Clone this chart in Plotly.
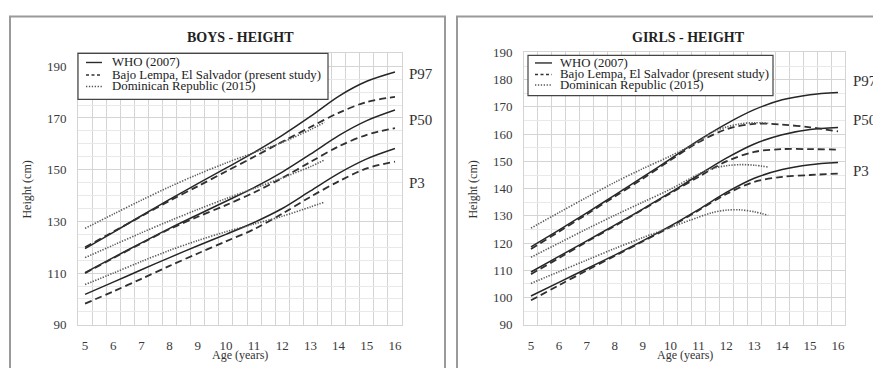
import plotly.graph_objects as go

W, H = 881, 368
OFF = 8  # the page body keeps its default 8px margin; positions below are window pixels

# ---------------- data ----------------
ages = [5, 6, 7, 8, 9, 10, 11, 12, 13, 14, 15, 16]
dom_ages = [5, 6, 7, 8, 9, 10, 11, 12, 13, 13.5]
dom_ages_g = [5, 6, 7, 8, 9, 10, 11, 11.5, 12, 12.5, 13, 13.5]

boys_who_p3 = [101.8, 106.5, 111.3, 116.0, 120.6, 125.0, 129.6, 135.0, 141.8, 148.6, 154.2, 158.2]
boys_who_p50 = [110.2, 116.0, 121.7, 127.3, 132.6, 137.8, 143.1, 149.1, 156.0, 163.2, 169.0, 173.1]
boys_who_p97 = [119.5, 125.8, 132.2, 138.5, 144.6, 150.6, 156.7, 163.3, 170.6, 178.4, 184.2, 187.8]

boys_bl_p3 = [98.2, 102.9, 107.8, 112.8, 117.6, 122.3, 127.0, 133.0, 139.5, 145.5, 150.5, 153.1]
boys_bl_p50 = [110.0, 115.8, 121.5, 127.0, 131.8, 136.3, 141.2, 146.8, 153.0, 159.0, 163.5, 166.1]
boys_bl_p97 = [120.0, 126.0, 132.0, 138.0, 143.6, 149.3, 155.0, 160.8, 166.5, 172.0, 176.2, 178.2]

boys_dom_p3 = [105.6, 110.0, 114.5, 118.8, 122.6, 126.0, 129.0, 132.0, 135.6, 137.5]
boys_dom_p50 = [116.0, 120.8, 125.6, 130.2, 134.6, 138.8, 142.8, 146.8, 151.2, 153.8]
boys_dom_p97 = [127.3, 132.8, 138.2, 143.4, 148.2, 152.6, 156.6, 160.6, 165.5, 168.3]

girls_who_p3 = [100.6, 105.6, 110.6, 115.6, 120.8, 126.3, 132.3, 138.6, 143.8, 147.0, 148.8, 149.6]
girls_who_p50 = [109.4, 115.1, 120.8, 126.6, 132.5, 138.6, 145.0, 151.2, 156.4, 159.8, 161.7, 162.4]
girls_who_p97 = [118.6, 124.8, 131.1, 137.6, 144.2, 150.9, 157.7, 163.8, 169.0, 172.6, 174.5, 175.3]

girls_bl_p3 = [99.0, 104.5, 110.0, 115.3, 120.6, 126.0, 132.0, 138.0, 142.5, 144.3, 145.0, 145.5]
girls_bl_p50 = [108.6, 114.5, 120.5, 126.3, 132.3, 138.3, 144.3, 150.0, 153.5, 154.5, 154.5, 154.3]
girls_bl_p97 = [117.8, 124.2, 130.6, 137.1, 143.6, 150.5, 157.0, 161.8, 163.8, 163.5, 162.5, 161.0]

girls_dom_p3 = [105.2, 109.5, 113.8, 118.0, 122.0, 125.8, 129.5, 131.2, 132.1, 132.2, 131.5, 130.2]
girls_dom_p50 = [114.8, 120.0, 125.2, 130.2, 135.0, 139.8, 145.3, 147.4, 148.4, 148.8, 148.6, 147.9]
girls_dom_p97 = [125.5, 131.2, 136.8, 142.3, 147.3, 152.0, 157.3, 160.8, 162.6, 163.8, 164.2, 164.0]

x_ticks = [5, 6, 7, 8, 9, 10, 11, 12, 13, 14, 15, 16]
boys_y_ticks = [90, 110, 130, 150, 170, 190]
girls_y_ticks = [90, 100, 110, 120, 130, 140, 150, 160, 170, 180, 190]

series_names = ["WHO (2007)", "Bajo Lempa, El Salvador (present study)", "Dominican Republic (2015)"]
pct_labels = ["P97", "P50", "P3"]

# ---------------- styles ----------------
SERIF = "Liberation Serif, Times New Roman, serif"
who_style = dict(color="#262626", width=1.5)
bl_style = dict(color="#303030", width=1.8, dash="7px,4px")
dom_style = dict(color="#5a5a5a", width=1.6, dash="1.3px,1.4px")

fig = go.Figure()


def add(x, y, style, xa, ya, name):
    fig.add_trace(go.Scatter(x=x, y=y, mode="lines", name=name, showlegend=False,
                             line=dict(shape="spline", smoothing=0.9, **style),
                             xaxis=xa, yaxis=ya, hoverinfo="skip"))


for ys in (boys_who_p3, boys_who_p50, boys_who_p97):
    add(ages, ys, who_style, "x", "y", series_names[0])
for ys in (boys_bl_p3, boys_bl_p50, boys_bl_p97):
    add(ages, ys, bl_style, "x", "y", series_names[1])
for ys in (boys_dom_p3, boys_dom_p50, boys_dom_p97):
    add(dom_ages, ys, dom_style, "x", "y", series_names[2])

for ys in (girls_who_p3, girls_who_p50, girls_who_p97):
    add(ages, ys, who_style, "x2", "y2", series_names[0])
for ys in (girls_bl_p3, girls_bl_p50, girls_bl_p97):
    add(ages, ys, bl_style, "x2", "y2", series_names[1])
for ys in (girls_dom_p3, girls_dom_p50, girls_dom_p97):
    add(dom_ages_g, ys, dom_style, "x2", "y2", series_names[2])


def px(x):
    return (x - OFF) / W


def py(y):
    return 1 - (y - OFF) / H


GRID = "#d4d4d4"
MINOR = "#e9e9e9"
TICKFONT = dict(family=SERIF, size=13, color="#3a3a3a")

xcommon = dict(range=[4.75, 16.25], tickvals=x_ticks, showgrid=False, zeroline=False,
               showline=True, linecolor=GRID, mirror=True, ticks="outside", ticklen=9,
               tickcolor="rgba(0,0,0,0)", tickfont=TICKFONT,
               minor=dict(tick0=4.75, dtick=0.5, showgrid=True, gridcolor=GRID, gridwidth=1))

fig.update_layout(
    width=W, height=H, margin=dict(l=0, r=0, t=0, b=0),
    paper_bgcolor="white", plot_bgcolor="white", showlegend=False,
    xaxis=dict(domain=[px(78), px(402)], anchor="y", **xcommon),
    xaxis2=dict(domain=[px(524), px(845)], anchor="y2", **xcommon),
    yaxis=dict(domain=[py(331), py(48)], anchor="x", range=[90, 195], tickvals=boys_y_ticks,
               showgrid=True, gridcolor=GRID, zeroline=False, showline=True, linecolor=GRID,
               mirror=True, ticks="outside", ticklen=8, tickcolor="rgba(0,0,0,0)",
               tickfont=TICKFONT,
               minor=dict(tick0=90, dtick=5, showgrid=True, gridcolor=MINOR, gridwidth=1)),
    yaxis2=dict(domain=[py(331), py(47)], anchor="x2", range=[90, 190], tickvals=girls_y_ticks,
                showgrid=True, gridcolor=GRID, zeroline=False, showline=True, linecolor=GRID,
                mirror=True, ticks="outside", ticklen=8, tickcolor="rgba(0,0,0,0)",
                tickfont=TICKFONT,
                minor=dict(tick0=90, dtick=5, showgrid=True, gridcolor=MINOR, gridwidth=1)),
)

shapes = []
annotations = []

# panel frames
for x0, x1 in ((10, 445), (457, 895)):
    shapes.append(dict(type="rect", xref="paper", yref="paper", x0=px(x0), x1=px(x1),
                       y0=py(390), y1=py(9.5), line=dict(color="#9a9a9a", width=2),
                       fillcolor="rgba(0,0,0,0)", layer="below"))

# titles
for txt, cx in (("BOYS - HEIGHT", 240), ("GIRLS - HEIGHT", 688)):
    annotations.append(dict(text="<b>%s</b>" % txt, x=px(cx), y=py(31), xref="paper", yref="paper",
                            showarrow=False, xanchor="center", yanchor="middle",
                            font=dict(family=SERIF, size=14, color="#222222")))

# axis titles
for cx in (240, 685):
    annotations.append(dict(text="Age (years)", x=px(cx), y=py(362), xref="paper", yref="paper",
                            showarrow=False, xanchor="center", yanchor="middle",
                            font=dict(family=SERIF, size=12, color="#333333")))
for cx in (27, 473):
    annotations.append(dict(text="Height (cm)", x=px(cx), y=py(190), xref="paper", yref="paper",
                            showarrow=False, xanchor="center", yanchor="middle", textangle=-90,
                            font=dict(family=SERIF, size=12, color="#333333")))

# percentile labels
for lab, yy in zip(pct_labels, (70, 117, 183)):
    annotations.append(dict(text=lab, x=px(407), y=py(yy), xref="paper", yref="paper",
                            showarrow=False, xanchor="left", yanchor="middle",
                            font=dict(family=SERIF, size=15, color="#333333")))
for lab, yy in zip(pct_labels, (77, 117, 171)):
    annotations.append(dict(text=lab, x=px(851), y=py(yy), xref="paper", yref="paper",
                            showarrow=False, xanchor="left", yanchor="middle",
                            font=dict(family=SERIF, size=15, color="#333333")))

# legends (drawn boxes)
legend_specs = [
    dict(box=(78, 328, 48, 96), sx=(86, 102), tx=110, rows=(57.5, 70.5, 82.5)),
    dict(box=(528, 773, 50, 92), sx=(535, 552), tx=558, rows=(58, 70, 81)),
]
sample_styles = [dict(color="#2b2b2b", width=1.4),
                 dict(color="#333333", width=1.4, dash="3px,2.5px"),
                 dict(color="#555555", width=1.4, dash="1.3px,1.6px")]
for spec in legend_specs:
    bx0, bx1, by0, by1 = spec["box"]
    shapes.append(dict(type="rect", xref="paper", yref="paper", x0=px(bx0), x1=px(bx1),
                       y0=py(by1), y1=py(by0), line=dict(color="#444444", width=1.2),
                       fillcolor="white", layer="above"))
    for name, ry, st in zip(series_names, spec["rows"], sample_styles):
        shapes.append(dict(type="line", xref="paper", yref="paper", x0=px(spec["sx"][0]),
                           x1=px(spec["sx"][1]), y0=py(ry), y1=py(ry), line=st, layer="above"))
        annotations.append(dict(text=name, x=px(spec["tx"]), y=py(ry), xref="paper", yref="paper",
                                showarrow=False, xanchor="left", yanchor="middle",
                                font=dict(family=SERIF, size=12.8, color="#222222")))

fig.update_layout(shapes=shapes, annotations=annotations)
fig.write_html("out.html", config={"displayModeBar": False})
